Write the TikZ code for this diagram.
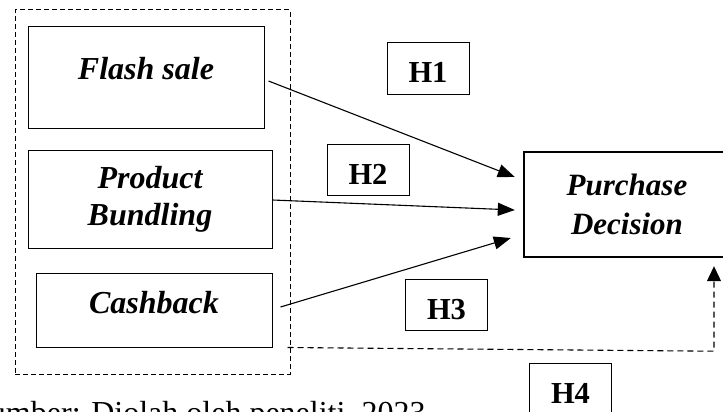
\documentclass[tikz,border=0pt]{standalone}
\usepackage{fontspec}
\setmainfont{Liberation Serif}
\usetikzlibrary{arrows.meta,calc}
\begin{document}
\begin{tikzpicture}[x=1pt,y=-1pt,
  varbox/.style={draw, line width=1pt, inner sep=0pt, font=\fontsize{32}{37}\selectfont\bfseries\itshape, align=center},
  hbox/.style={draw, line width=1pt, inner sep=0pt, minimum width=82pt, minimum height=51pt, text height=29pt, text depth=0pt, font=\fontsize{30.5}{36}\selectfont\bfseries},
  link/.style={line width=1.1pt, -{Triangle[length=17pt,width=13pt]}},
  dlink/.style={line width=1.1pt, dash pattern=on 6pt off 4pt, -{Triangle[length=15pt,width=14pt]}}
]
\useasboundingbox (0,0) rectangle (723,412);
\clip (0,0) rectangle (723,412);

\node[draw, dash pattern=on 5pt off 3pt, line width=1pt, minimum width=275pt, minimum height=364pt, inner sep=0pt] (grp) at (152.5,192) {};

\node[varbox, minimum width=236pt, minimum height=101pt, text depth=18pt] (fs) at (146,77.5) {Flash sale};
\node[varbox, minimum width=244pt, minimum height=98pt] (pb) at (150,199) {Product\\Bundling};
\node[varbox, minimum width=236pt, minimum height=74pt, text depth=15pt] (cb) at (154,310) {Cashback};
\node[varbox, line width=2.4pt, minimum width=206pt, minimum height=105pt, font=\fontsize{31}{39}\selectfont\bfseries\itshape] (pd) at (627,204.5) {Purchase\\Decision};

\node[hbox] (h1) at (428,68.5) {H1};
\node[hbox] (h2) at (368,170) {H2};
\node[hbox] (h3) at (446.5,304.5) {H3};
\node[hbox] (h4) at (570.5,388.5) {H4};

\draw[link] ($(fs.east)+(4,3.5)$) -- ($(pd.west)+(-8,-27.5)$);
\draw[link] ($(pb.east)+(0,1)$) -- ($(pd.west)+(-8,5.5)$);
\draw[link] ($(cb.east)+(8,-3)$) -- ($(pd.west)+(-12,33.5)$);

\coordinate (dstart) at ($(grp.south east)+(-3,-27)$);
\coordinate (dturn) at ($(pd.south)+(87,93)$);
\coordinate (dend) at ($(pd.south)+(87,8)$);
\draw[dlink] (dstart) -- (dturn) -- (dend);

\node[anchor=base west, inner sep=0pt, font=\fontsize{32}{38}\selectfont] (cap) at (-28,423) {Sumber: Diolah oleh peneliti, 2023};
\end{tikzpicture}
\end{document}
